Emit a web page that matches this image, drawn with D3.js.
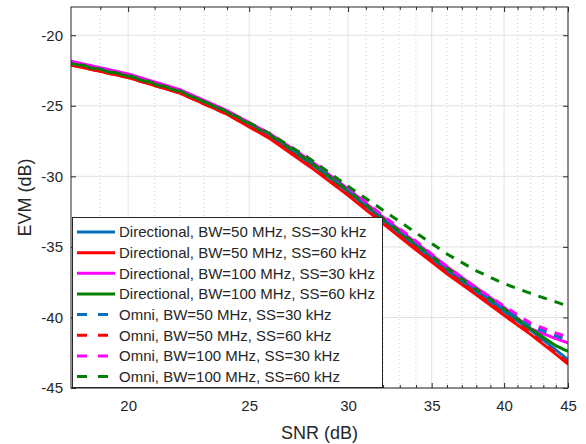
<!DOCTYPE html>
<html>
<head>
<meta charset="utf-8">
<title>EVM vs SNR</title>
<script src="https://d3js.org/d3.v7.min.js"></script>
<style>
body { margin: 0; background: #fff; }
text { font-family: "Liberation Sans", Arial, sans-serif; fill: #262626; }
</style>
</head>
<body>
<div id="chart"></div>
<script>

// data
const snr = [18, 20, 22, 24, 26, 28, 30, 32, 34, 36, 38, 40, 42, 44, 45];

const dirBw50ss30  = [-22.0, -22.9, -24.0, -25.5, -27.2, -29.1, -31.1, -33.1, -35.0, -36.7, -38.2, -39.6, -40.9, -42.3, -43.0];
const dirBw50ss60  = [-22.1, -23.0, -24.1, -25.6, -27.35, -29.35, -31.35, -33.35, -35.2, -36.9, -38.4, -39.85, -41.2, -42.6, -43.3];
const dirBw100ss30 = [-21.85, -22.75, -23.85, -25.35, -27.0, -28.9, -30.9, -32.9, -34.7, -36.4, -37.9, -39.3, -40.8, -41.5, -41.8];
const dirBw100ss60 = [-21.95, -22.85, -23.95, -25.45, -27.1, -29.0, -31.0, -33.0, -34.8, -36.5, -38.0, -39.4, -40.8, -42.0, -42.4];
const omniBw50ss30  = [-22.0, -22.9, -24.0, -25.5, -27.1, -28.9, -30.9, -32.9, -34.7, -36.5, -38.0, -39.4, -40.6, -41.3, -41.6];
const omniBw50ss60  = [-22.1, -23.0, -24.1, -25.6, -27.3, -29.3, -31.3, -33.3, -35.1, -36.8, -38.3, -39.75, -41.1, -42.5, -43.2];
const omniBw100ss30 = [-21.9, -22.8, -23.9, -25.4, -27.0, -28.8, -30.8, -32.8, -34.6, -36.4, -37.9, -39.2, -40.4, -41.1, -41.4];
const omniBw100ss60 = [-22.0, -22.9, -24.0, -25.4, -27.0, -28.8, -30.7, -32.4, -34.0, -35.5, -36.7, -37.6, -38.3, -38.9, -39.2];

const seriesNames = [
  "Directional, BW=50 MHz, SS=30 kHz",
  "Directional, BW=50 MHz, SS=60 kHz",
  "Directional, BW=100 MHz, SS=30 kHz",
  "Directional, BW=100 MHz, SS=60 kHz",
  "Omni, BW=50 MHz, SS=30 kHz",
  "Omni, BW=50 MHz, SS=60 kHz",
  "Omni, BW=100 MHz, SS=30 kHz",
  "Omni, BW=100 MHz, SS=60 kHz"
];
const seriesValues = [dirBw50ss30, dirBw50ss60, dirBw100ss30, dirBw100ss60,
                      omniBw50ss30, omniBw50ss60, omniBw100ss30, omniBw100ss60];
const seriesColors = ["#0072bd", "#ff0000", "#ff00ff", "#008000",
                      "#0072bd", "#ff0000", "#ff00ff", "#008000"];
const seriesDashed = [false, false, false, false, true, true, true, true];

const xMajorTicks = [20, 25, 30, 35, 40, 45];
const xMinorTicks = [19, 21, 22, 23, 24, 26, 27, 28, 29, 31, 32, 33, 34, 36, 37, 38, 39, 41, 42, 43, 44];
const yTicks = [-45, -40, -35, -30, -25, -20];

const W = 586, H = 444;
const plot = {left: 71, right: 568, top: 7, bottom: 388};

const svg = d3.select("#chart").append("svg")
  .attr("width", W).attr("height", H);

const x = d3.scaleLog().domain([18, 45]).range([plot.left, plot.right]);
const y = d3.scaleLinear().domain([-45, -18]).range([plot.bottom, plot.top]);

// grid
svg.append("g").selectAll("line").data(xMinorTicks).enter().append("line")
  .attr("x1", d => x(d)).attr("x2", d => x(d))
  .attr("y1", plot.top).attr("y2", plot.bottom)
  .attr("stroke", "#cfcfcf").attr("stroke-width", 1)
  .attr("stroke-dasharray", "1,3");

svg.append("g").selectAll("line").data(xMajorTicks).enter().append("line")
  .attr("x1", d => x(d)).attr("x2", d => x(d))
  .attr("y1", plot.top).attr("y2", plot.bottom)
  .attr("stroke", "#e1e1e1").attr("stroke-width", 1);

svg.append("g").selectAll("line").data(yTicks).enter().append("line")
  .attr("x1", plot.left).attr("x2", plot.right)
  .attr("y1", d => y(d)).attr("y2", d => y(d))
  .attr("stroke", "#e1e1e1").attr("stroke-width", 1);

// lines
svg.append("clipPath").attr("id", "clip").append("rect")
  .attr("x", plot.left).attr("y", plot.top)
  .attr("width", plot.right - plot.left).attr("height", plot.bottom - plot.top);

const line = d3.line().x((d, i) => x(snr[i])).y(d => y(d));

svg.append("g").attr("clip-path", "url(#clip)")
  .selectAll("path").data(seriesValues).enter().append("path")
  .attr("d", d => line(d))
  .attr("fill", "none")
  .attr("stroke", (d, i) => seriesColors[i])
  .attr("stroke-width", 3)
  .attr("stroke-dasharray", (d, i) => seriesDashed[i] ? "9,8" : null);

// axes
const axisX = d3.axisBottom(x).tickValues(xMajorTicks).tickFormat(d => String(d))
  .tickSizeInner(-5).tickSizeOuter(0).tickPadding(12);
const axisXTop = d3.axisTop(x).tickValues(xMajorTicks).tickFormat("")
  .tickSizeInner(-5).tickSizeOuter(0);
const axisXMinor = d3.axisBottom(x).tickValues(xMinorTicks).tickFormat("")
  .tickSizeInner(-3).tickSizeOuter(0);
const axisXMinorTop = d3.axisTop(x).tickValues(xMinorTicks).tickFormat("")
  .tickSizeInner(-3).tickSizeOuter(0);
const axisY = d3.axisLeft(y).tickValues(yTicks).tickFormat(d => String(d))
  .tickSizeInner(-5).tickSizeOuter(0).tickPadding(8);
const axisYRight = d3.axisRight(y).tickValues(yTicks).tickFormat("")
  .tickSizeInner(-5).tickSizeOuter(0);

function styleAxis(g) {
  g.select(".domain").remove();
  g.selectAll("line").attr("stroke", "#262626");
  g.selectAll("text").attr("font-size", "15px").attr("fill", "#262626")
    .attr("font-family", "'Liberation Sans', Arial, sans-serif");
}

svg.append("g").attr("transform", "translate(0," + plot.bottom + ")").call(axisX).call(styleAxis);
svg.append("g").attr("transform", "translate(0," + plot.bottom + ")").call(axisXMinor).call(styleAxis);
svg.append("g").attr("transform", "translate(0," + plot.top + ")").call(axisXTop).call(styleAxis);
svg.append("g").attr("transform", "translate(0," + plot.top + ")").call(axisXMinorTop).call(styleAxis);
svg.append("g").attr("transform", "translate(" + plot.left + ",0)").call(axisY).call(styleAxis);
svg.append("g").attr("transform", "translate(" + plot.right + ",0)").call(axisYRight).call(styleAxis);

svg.append("rect")
  .attr("x", plot.left).attr("y", plot.top)
  .attr("width", plot.right - plot.left).attr("height", plot.bottom - plot.top)
  .attr("fill", "none").attr("stroke", "#262626").attr("stroke-width", 1);

// axis labels
svg.append("text")
  .attr("x", (plot.left + plot.right) / 2).attr("y", 439)
  .attr("text-anchor", "middle").attr("font-size", "18px")
  .text("SNR (dB)");

svg.append("text")
  .attr("transform", "translate(31," + ((plot.top + plot.bottom) / 2) + ") rotate(-90)")
  .attr("text-anchor", "middle").attr("font-size", "18px")
  .text("EVM (dB)");

// legend
const lg = svg.append("g");
lg.append("rect")
  .attr("x", 72.5).attr("y", 217.5).attr("width", 310).attr("height", 170)
  .attr("fill", "#fff").attr("stroke", "#262626").attr("stroke-width", 1);

const rows = lg.selectAll("g.row").data(seriesNames).enter().append("g")
  .attr("transform", (d, i) => "translate(0," + (232 + i * 20.65) + ")");

rows.append("line")
  .attr("x1", 77).attr("x2", 115).attr("y1", 0).attr("y2", 0)
  .attr("stroke", (d, i) => seriesColors[i]).attr("stroke-width", 3)
  .attr("stroke-dasharray", (d, i) => seriesDashed[i] ? "10,11" : null);

rows.append("text")
  .attr("x", 119).attr("y", 0).attr("dy", "0.35em")
  .attr("font-size", "15px")
  .text(d => d);

</script>
</body>
</html>
